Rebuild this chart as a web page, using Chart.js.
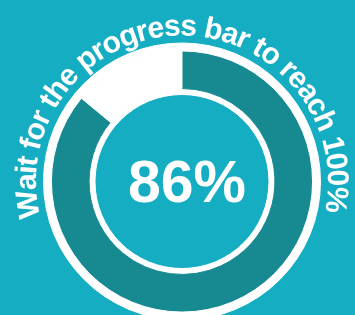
<!DOCTYPE html>
<html>
<head>
<meta charset="utf-8">
<script src="https://cdn.jsdelivr.net/npm/chart.js@4"></script>
<style>
  html, body { margin: 0; padding: 0; background: #14adc2; overflow: hidden; }
  #wrap { position: relative; width: 355px; height: 330px; }
</style>
</head>
<body>
<div id="wrap"><canvas id="progressChart"></canvas></div>
<script>
// --- data ---
const progressLabels = ['Done', 'Remaining'];
const progressValues = [86, 14];
const ringValues = [100];
const centerLabel = '86%';
const caption = 'Wait for the progress bar to reach 100%';

const teal = '#14adc2';
const darkTeal = '#178990';
const white = '#ffffff';

// draws the big percentage and the caption bent round the ring
const ringText = {
    id: 'ringText',
    afterDraw(chart) {
        const arc = chart.getDatasetMeta(1).data[0];
        const cx = arc.x, cy = arc.y;
        const ctx = chart.ctx;
        ctx.save();
        ctx.fillStyle = white;
        ctx.textAlign = 'center';

        ctx.font = 'bold 59px "Liberation Sans", Arial, sans-serif';
        ctx.textBaseline = 'middle';
        ctx.fillText(centerLabel, cx + 5, cy + 4);

        ctx.font = 'bold 30px "Liberation Sans", Arial, sans-serif';
        ctx.textBaseline = 'alphabetic';
        const r = 146;
        const chars = caption.split('');
        const widths = chars.map(c => ctx.measureText(c).width);
        const total = widths.reduce((a, b) => a + b, 0);
        const span = 206 * Math.PI / 180;
        const gap = (span * r - total) / (chars.length - 1);
        let a = -1 * Math.PI / 180 - span / 2;
        chars.forEach((c, i) => {
            const mid = a + widths[i] / 2 / r;
            ctx.save();
            ctx.translate(cx + r * Math.sin(mid), cy - r * Math.cos(mid));
            ctx.rotate(mid);
            ctx.fillText(c, 0, 0);
            ctx.restore();
            a += (widths[i] + gap) / r;
        });
        ctx.restore();
    }
};

new Chart(document.getElementById('progressChart'), {
    type: 'doughnut',
    data: {
        labels: progressLabels,
        datasets: [
            { data: ringValues, weight: 8, backgroundColor: white, borderColor: white, borderWidth: 1 },
            { data: progressValues, weight: 38, backgroundColor: [darkTeal, white], borderColor: [darkTeal, white], borderWidth: 1 },
            { data: ringValues, weight: 6, backgroundColor: white, borderColor: white, borderWidth: 1 }
        ]
    },
    options: {
        responsive: true,
        maintainAspectRatio: false,
        animation: false,
        events: [],
        cutout: 87,
        hoverOffset: 0,
        layout: { padding: { left: 43, right: 34, top: 42.5, bottom: 9.5 } },
        plugins: { legend: { display: false }, tooltip: { enabled: false } }
    },
    plugins: [ringText]
});
</script>
</body>
</html>
